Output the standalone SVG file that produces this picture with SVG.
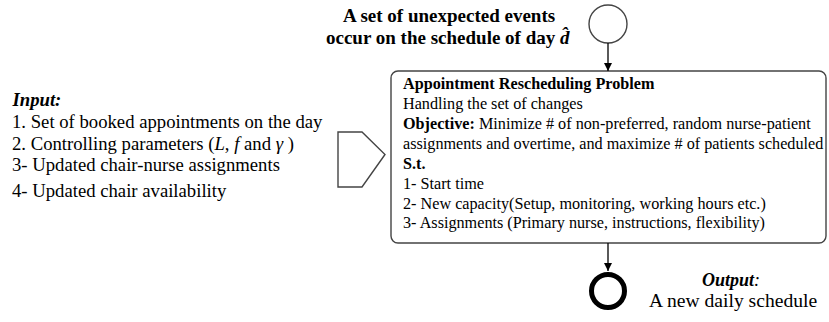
<svg xmlns="http://www.w3.org/2000/svg" width="829" height="322" viewBox="0 0 829 322">
<style>
text{font-family:"Liberation Serif","Times New Roman",serif;fill:#000}
.t{font-size:19px;font-weight:bold}
.l{font-size:18.7px}
.b{font-size:16.2px}
.bd{font-weight:bold}
.it{font-style:italic}
.shape{fill:#fff;stroke:#444;stroke-width:1.4}
.conn{stroke:#000;stroke-width:1.3;fill:none}
</style>
<defs>
<marker id="ah" viewBox="0 0 10 10" refX="10" refY="5" markerWidth="8" markerHeight="8" markerUnits="userSpaceOnUse" orient="auto">
<path d="M0,0 L10,5 L0,10 Z" fill="#000"/>
</marker>
</defs>
<rect width="829" height="322" fill="#fff"/>

<g id="events">
<circle class="shape" cx="608" cy="24" r="19"/>
<text class="t" x="343" y="21.5">A set of unexpected events</text>
<text class="t" x="326" y="44">occur on the schedule of day <tspan class="it">d̂</tspan></text>
</g>

<g id="input">
<text class="l it bd" x="12.5" y="106">Input:</text>
<text class="l" x="12" y="128">1. Set of booked appointments on the day</text>
<text class="l" x="12" y="150">2. Controlling parameters (<tspan class="it">L</tspan>, <tspan class="it">f</tspan> and <tspan class="it">γ</tspan> )</text>
<text class="l" x="12" y="171">3- Updated chair-nurse assignments</text>
<text class="l" x="12" y="197">4- Updated chair availability</text>
</g>

<g id="input-arrow">
<polygon class="shape" points="338,132 362,132 385,154.5 362,187 338,187"/>
</g>

<g id="problem">
<rect class="shape" x="391" y="71" width="435" height="172" rx="7" ry="7"/>
<text class="b bd" x="403" y="89">Appointment Rescheduling Problem</text>
<text class="b" x="403" y="109">Handling the set of changes</text>
<text class="b" x="403" y="129"><tspan class="bd">Objective:</tspan> Minimize # of non-preferred, random nurse-patient</text>
<text class="b" x="403" y="149">assignments and overtime, and maximize # of patients scheduled</text>
<text class="b bd" x="403" y="169">S.t.</text>
<text class="b" x="403" y="188.5">1- Start time</text>
<text class="b" x="403" y="208.5">2- New capacity(Setup, monitoring, working hours etc.)</text>
<text class="b" x="403" y="228">3- Assignments (Primary nurse, instructions, flexibility)</text>
</g>

<g id="output">
<circle cx="608" cy="291" r="16.5" fill="#fff" stroke="#000" stroke-width="5"/>
<text class="it bd" style="font-size:18px" x="702" y="285.5">Output<tspan font-weight="normal">:</tspan></text>
<text style="font-size:19.6px" x="649" y="307">A new daily schedule</text>
</g>

<g id="connectors">
<line class="conn" x1="608" y1="43" x2="608" y2="71" marker-end="url(#ah)"/>
<line class="conn" x1="608" y1="243" x2="608" y2="271" marker-end="url(#ah)"/>
</g>
</svg>
